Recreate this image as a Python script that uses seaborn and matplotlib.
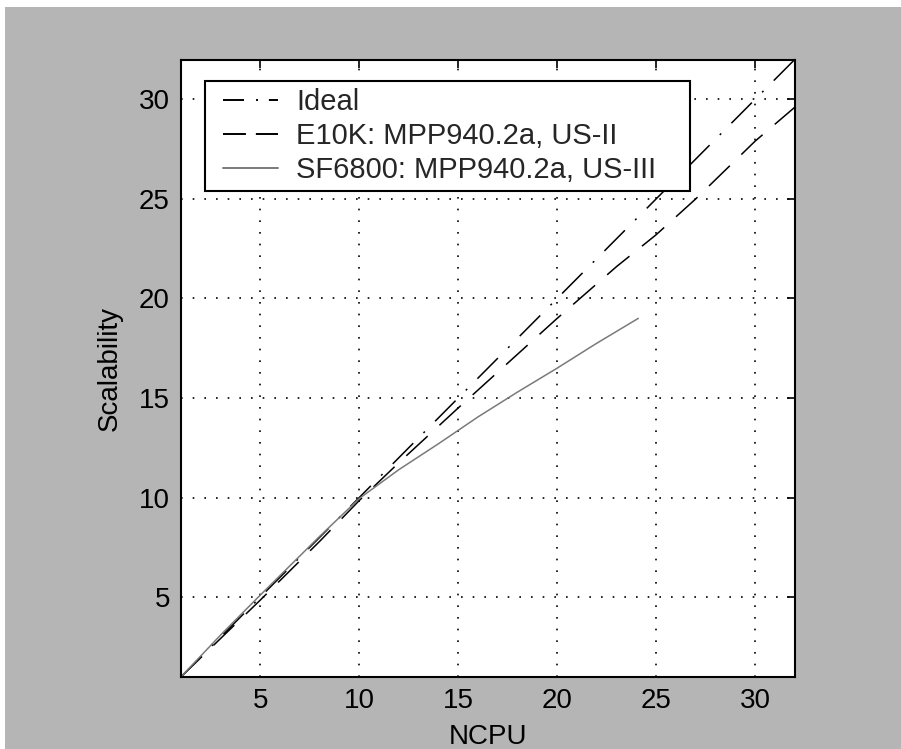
import matplotlib
matplotlib.use('Agg')
import matplotlib.pyplot as plt
import seaborn as sns
from matplotlib.lines import Line2D
from matplotlib.patches import Rectangle
from matplotlib.legend_handler import HandlerLine2D

# values
ideal_ncpu = [1, 32]
ideal_scal = [1, 32]

e10k_ncpu = [1, 5, 8, 10, 12, 15, 17, 20, 23, 25, 27, 30, 32]
e10k_scal = [1, 4.85, 7.8, 9.85, 11.75, 14.5, 16.3, 19.0, 21.6, 23.2, 25.0, 27.9, 29.6]

sf_ncpu = [1, 3, 5, 8, 10, 12, 14, 16, 18, 20, 22, 24.1]
sf_scal = [1, 3.1, 5.1, 8.05, 9.95, 11.4, 12.7, 14.05, 15.3, 16.5, 17.75, 19.0]

labels = ['Ideal', 'E10K: MPP940.2a, US-II', 'SF6800: MPP940.2a, US-III']
ticks = [5, 10, 15, 20, 25, 30]

sns.set_style('white')
plt.rcParams['font.family'] = ['Liberation Sans', 'DejaVu Sans']

fig = plt.figure(figsize=(9.01, 7.49), dpi=100, facecolor='white')
# dithered grey backdrop with thin white strip on top and left
fig.patches.append(Rectangle((5 / 901, 0), 1, 742 / 749, transform=fig.transFigure,
                             facecolor='#b5b5b5', edgecolor='none', zorder=-10))

ax = fig.add_axes([0.201, 0.0965, 0.681, 0.824])
ax.set_facecolor('white')

sns.lineplot(x=ideal_ncpu, y=ideal_scal, ax=ax, color='black', linewidth=1.1,
             linestyle=(0, (19, 9.5, 1.3, 9.5)), label=labels[0])
sns.lineplot(x=e10k_ncpu, y=e10k_scal, ax=ax, color='black', linewidth=1.1,
             linestyle=(0, (19, 10.5)), label=labels[1])
sns.lineplot(x=sf_ncpu, y=sf_scal, ax=ax, color='#7a7a7a', linewidth=1.1,
             linestyle='-', label=labels[2])

ax.set_xlim(1, 32)
ax.set_ylim(1, 32)
ax.set_xticks(ticks)
ax.set_yticks(ticks)
ax.grid(True, color='black', linestyle=(0, (1, 6)), linewidth=1.2)
ax.tick_params(direction='in', length=6, width=1.2, top=True, right=True,
               labelsize=20, pad=8, colors='black')
for s in ax.spines.values():
    s.set_visible(True)
    s.set_linewidth(1.5)
    s.set_color('black')

ax.set_xlabel('NCPU', fontsize=20, labelpad=7, color='black')
ax.set_ylabel('Scalability', fontsize=20, labelpad=12, color='black')

leg = ax.legend(loc='upper left', bbox_to_anchor=(0.039, 0.965, 0.79, 0.0),
                mode='expand', borderaxespad=0, fontsize=21, frameon=True,
                fancybox=False, borderpad=0.25, handlelength=2.26,
                handletextpad=0.62, labelspacing=0.2,
                handler_map={Line2D: HandlerLine2D(xpad=0.35)})
leg.get_frame().set_edgecolor('black')
leg.get_frame().set_linewidth(1.5)
leg.get_frame().set_facecolor('white')
leg.get_frame().set_alpha(1)
# shorter dash pattern in the legend keys, as in the reference
leg_lines = leg.get_lines()
for ln in leg_lines:
    ln.set_linewidth(1.4)
leg_lines[0].set_linestyle((0, (10.8, 6.2, 1.0, 5.6)))
leg_lines[1].set_linestyle((0, (11.8, 5.1)))

plt.savefig('out.png', dpi=100, facecolor=fig.get_facecolor())
